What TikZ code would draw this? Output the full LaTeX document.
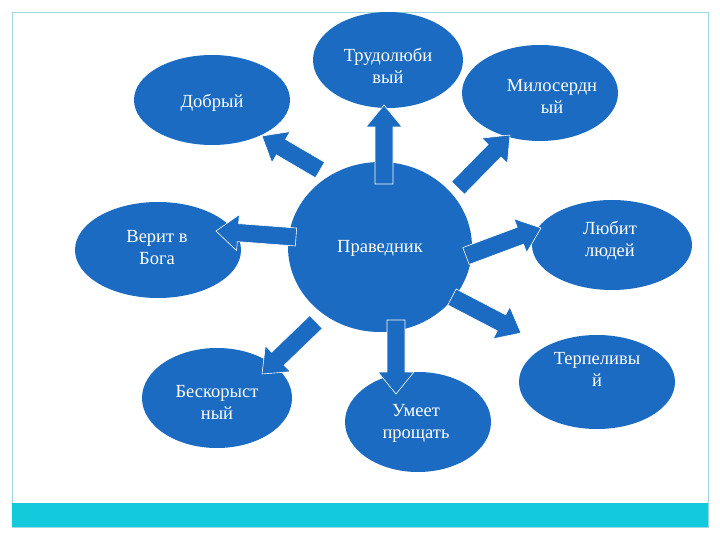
\documentclass[tikz,border=0pt]{standalone}
\usepackage{fontspec}
\setmainfont{Liberation Serif}
\usetikzlibrary{calc,shapes.geometric}
\definecolor{blu}{HTML}{1A6BC1}
\definecolor{cyanbar}{HTML}{12CADB}
\definecolor{frm}{HTML}{9ED8DE}
\tikzset{bub/.style={ellipse,fill=blu,inner sep=0pt},
  lbl/.style={text=white,font=\fontsize{18.5}{22}\selectfont,align=center,inner sep=0pt}}
\newcommand\barrow[2]{%
\path[fill=blu,draw=white,line width=0.6pt] let \p1=(#1), \p2=(#2), \n1={atan2(\y2-\y1,\x2-\x1)}, \n2={veclen(\x2-\x1,\y2-\y1)} in
 [shift={(\p1)}, rotate=\n1] (0pt,-9pt) -- ({\n2-22pt},-9pt) -- ({\n2-22pt},-18pt) -- (\n2,0pt) -- ({\n2-22pt},18pt) -- ({\n2-22pt},9pt) -- (0pt,9pt) -- cycle;}
\begin{document}
\begin{tikzpicture}[x=1pt,y=-1pt]
\useasboundingbox (0,0) rectangle (720,540);
\fill[white] (0,0) rectangle (720,540);
\draw[frm,line width=0.8pt] (12,12) rectangle (708,527);
\fill[cyanbar] (12,503) rectangle (708,527);
\node[bub,minimum width=184pt,minimum height=170pt] (c) at (380,247) {};
\node[bub,minimum width=156pt,minimum height=90pt] (a1) at (212,100) {};
\node[bub,minimum width=150pt,minimum height=96pt] (a2) at (388,60) {};
\node[bub,minimum width=156pt,minimum height=96pt] (a3) at (540,93) {};
\node[bub,minimum width=166pt,minimum height=96pt] (a4) at (158,250) {};
\node[bub,minimum width=160pt,minimum height=90pt] (a5) at (612,245) {};
\node[bub,minimum width=150pt,minimum height=100pt] (a6) at (217,398) {};
\node[bub,minimum width=146pt,minimum height=100pt] (a7) at (418,422) {};
\node[bub,minimum width=156pt,minimum height=94pt] (a8) at (597,382) {};
\coordinate (s2) at (384,184); \coordinate (t2) at (384,105);
\coordinate (s1) at (320,170); \coordinate (t1) at (262,136);
\coordinate (s3) at (458,188); \coordinate (t3) at (510,135);
\coordinate (s4) at (296,237); \coordinate (t4) at (216,231);
\coordinate (s5) at (466,256); \coordinate (t5) at (541,228);
\coordinate (s6) at (316,322); \coordinate (t6) at (262,374);
\coordinate (s7) at (396,320); \coordinate (t7) at (396,394);
\coordinate (s8) at (452,297); \coordinate (t8) at (521,333);
\foreach \i in {1,...,8}{\barrow{s\i}{t\i}}
\node[lbl] (ct) at (380,248) {Праведник};
\node[lbl] (l1) at (212,103) {Добрый};
\node[lbl] (l2) at (388,66) {Трудолюби\\вый};
\node[lbl] (l3) at (552,96) {Милосердн\\ый};
\node[lbl] (l4) at (157,248) {Верит в\\Бога};
\node[lbl] (l5) at (610,241) {Любит\\людей};
\node[lbl] (l6) at (217,402) {Бескорыст\\ный};
\node[lbl] (l7) at (416,423) {Умеет\\прощать};
\node[lbl] (l8) at (597,369) {Терпеливы\\й};
\end{tikzpicture}
\end{document}
